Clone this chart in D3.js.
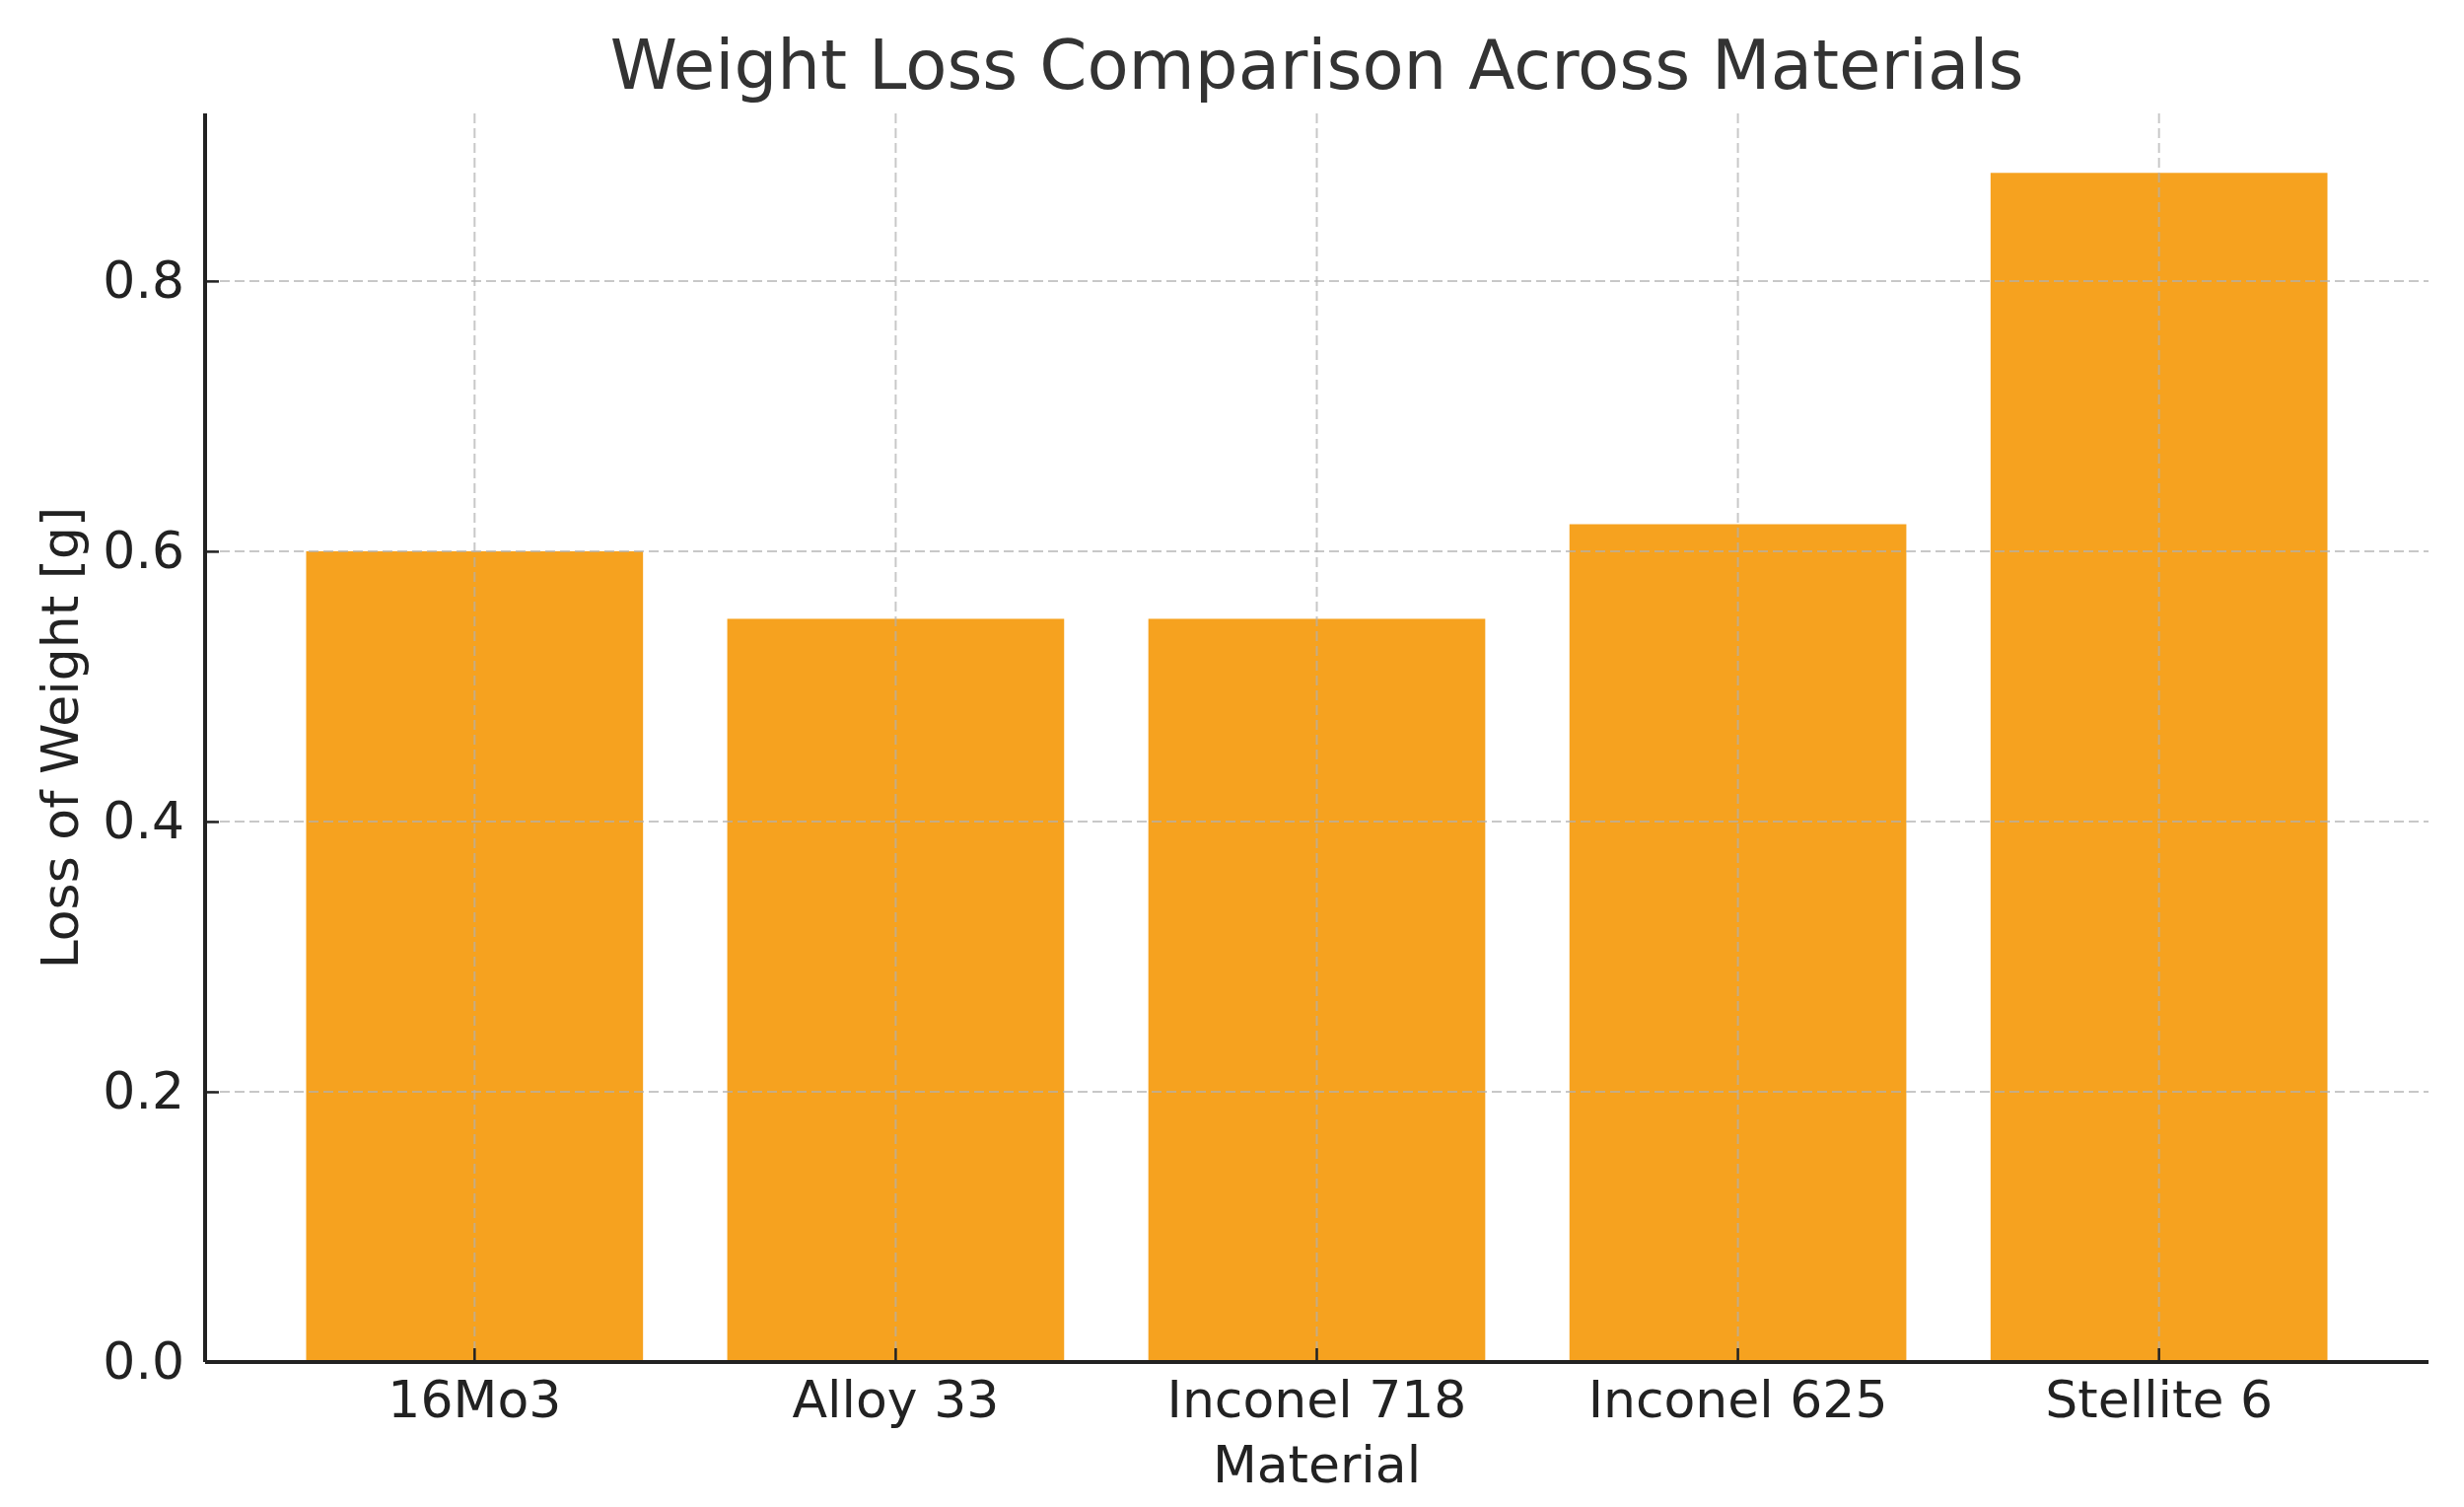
<!DOCTYPE html>
<html>
<head>
<meta charset="utf-8">
<script src="https://cdn.jsdelivr.net/npm/d3@7"></script>
<style>
  body { margin: 0; background: #fff; }
  text { font-family: "DejaVu Sans", sans-serif; }
</style>
</head>
<body>
<div id="chart"></div>
<script>
// data
var materials = ["16Mo3", "Alloy 33", "Inconel 718", "Inconel 625", "Stellite 6"];
var weightLoss = [0.60, 0.55, 0.55, 0.62, 0.88];
var yTicks = [0.0, 0.2, 0.4, 0.6, 0.8];

var svgWidth = 2499;
var svgHeight = 1528;

var margin = { top: 115, right: 36, bottom: 147, left: 208 };
var width = svgWidth - margin.left - margin.right;
var height = svgHeight - margin.top - margin.bottom;

var svg = d3.select("#chart")
  .append("svg")
  .attr("width", svgWidth)
  .attr("height", svgHeight);

var chartGroup = svg.append("g")
  .attr("transform", `translate(${margin.left}, ${margin.top})`);

var xScale = d3.scaleBand()
  .domain(materials)
  .range([0, width])
  .paddingInner(0.2)
  .paddingOuter(0.24);

var yScale = d3.scaleLinear()
  .domain([0, d3.max(weightLoss) * 1.05])
  .range([height, 0]);

// bars
chartGroup.selectAll("rect.bar")
  .data(weightLoss)
  .enter()
  .append("rect")
  .attr("class", "bar")
  .attr("x", (d, i) => xScale(materials[i]))
  .attr("y", d => yScale(d))
  .attr("width", xScale.bandwidth())
  .attr("height", d => height - yScale(d))
  .attr("fill", "#f6a21f");

// grid lines, drawn over the bars
var grid = chartGroup.append("g").attr("class", "grid");
grid.selectAll("line.v")
  .data(materials)
  .enter()
  .append("line")
  .attr("x1", d => xScale(d) + xScale.bandwidth() / 2)
  .attr("x2", d => xScale(d) + xScale.bandwidth() / 2)
  .attr("y1", 0)
  .attr("y2", height);
grid.selectAll("line.h")
  .data(yTicks)
  .enter()
  .append("line")
  .attr("x1", 0)
  .attr("x2", width)
  .attr("y1", d => yScale(d))
  .attr("y2", d => yScale(d));
grid.selectAll("line")
  .attr("stroke", "#b0b0b0")
  .attr("stroke-opacity", 0.7)
  .attr("stroke-width", 2)
  .attr("stroke-dasharray", "10,5");

// axes
var bottomAxis = d3.axisBottom(xScale).tickSize(-14).tickPadding(19);
var leftAxis = d3.axisLeft(yScale).tickValues(yTicks).tickFormat(d3.format(".1f")).tickSize(-14).tickPadding(21);

var xAxis = chartGroup.append("g")
  .attr("transform", `translate(0, ${height})`)
  .call(bottomAxis);

var yAxis = chartGroup.append("g")
  .call(leftAxis);

[xAxis, yAxis].forEach(function(ax) {
  ax.select(".domain").attr("stroke", "#222").attr("stroke-width", 4);
  ax.selectAll(".tick line").attr("stroke", "#222").attr("stroke-width", 2.5);
  ax.selectAll(".tick text")
    .attr("fill", "#222")
    .style("font-size", "52px");
});
// only spines, no end caps
xAxis.select(".domain").attr("d", `M0,0H${width}`);
yAxis.select(".domain").attr("d", `M0,${height}V0`);

// axis labels
svg.append("text")
  .attr("x", margin.left + width / 2)
  .attr("y", 1503)
  .attr("text-anchor", "middle")
  .attr("fill", "#222")
  .style("font-size", "52px")
  .text("Material");

svg.append("text")
  .attr("transform", `translate(79, ${margin.top + height / 2}) rotate(-90)`)
  .attr("text-anchor", "middle")
  .attr("fill", "#222")
  .style("font-size", "52px")
  .text("Loss of Weight [g]");

// title
svg.append("text")
  .attr("x", margin.left + width / 2)
  .attr("y", 90)
  .attr("text-anchor", "middle")
  .attr("fill", "#333")
  .style("font-size", "69px")
  .text("Weight Loss Comparison Across Materials");
</script>
</body>
</html>
